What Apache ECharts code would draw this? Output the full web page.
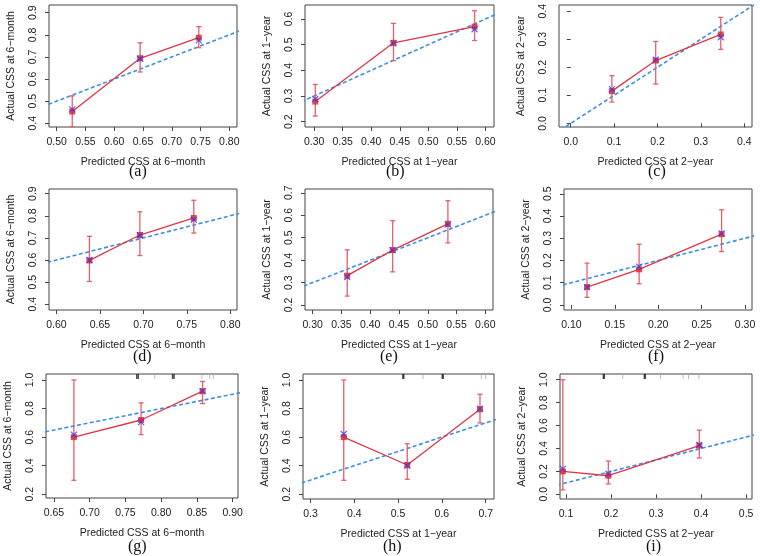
<!DOCTYPE html>
<html><head><meta charset="utf-8">
<script src="https://cdn.jsdelivr.net/npm/echarts@6/dist/echarts.min.js"></script>
<style>html,body{margin:0;padding:0;background:#fff}#c{width:760px;height:556px}</style>
</head><body><div id="c"></div>
<script>
// ---------- data ----------
const panelLabels = ['(a)','(b)','(c)','(d)','(e)','(f)','(g)','(h)','(i)'];
const xTitles = ['Predicted CSS at 6\u2212month','Predicted CSS at 1\u2212year','Predicted CSS at 2\u2212year',
                 'Predicted CSS at 6\u2212month','Predicted CSS at 1\u2212year','Predicted CSS at 2\u2212year',
                 'Predicted CSS at 6\u2212month','Predicted CSS at 1\u2212year','Predicted CSS at 2\u2212year'];
const yTitles = ['Actual CSS at 6\u2212month','Actual CSS at 1\u2212year','Actual CSS at 2\u2212year',
                 'Actual CSS at 6\u2212month','Actual CSS at 1\u2212year','Actual CSS at 2\u2212year',
                 'Actual CSS at 6\u2212month','Actual CSS at 1\u2212year','Actual CSS at 2\u2212year'];
const xTicks = [
  [0.50,0.55,0.60,0.65,0.70,0.75,0.80],
  [0.30,0.35,0.40,0.45,0.50,0.55,0.60],
  [0.0,0.1,0.2,0.3,0.4],
  [0.60,0.65,0.70,0.75,0.80],
  [0.30,0.35,0.40,0.45,0.50,0.55,0.60],
  [0.10,0.15,0.20,0.25,0.30],
  [0.65,0.70,0.75,0.80,0.85,0.90],
  [0.3,0.4,0.5,0.6,0.7],
  [0.1,0.2,0.3,0.4,0.5]];
const xDecimals = [2,2,1,2,2,2,2,1,1];
const yTicks = [
  [0.4,0.5,0.6,0.7,0.8,0.9],
  [0.2,0.3,0.4,0.5,0.6],
  [0.0,0.1,0.2,0.3,0.4],
  [0.4,0.5,0.6,0.7,0.8,0.9],
  [0.2,0.3,0.4,0.5,0.6,0.7],
  [0.0,0.1,0.2,0.3,0.4,0.5],
  [0.2,0.4,0.6,0.8,1.0],
  [0.2,0.4,0.6,0.8,1.0],
  [0.0,0.2,0.4,0.6,0.8,1.0]];
const xRange = [[0.4866,0.8134],[0.284,0.615],[-0.027,0.418],[0.5915,0.8077],[0.2866,0.6134],
                [0.0915,0.308],[0.639,0.9075],[0.283,0.719],[0.0867,0.513]];
const yRange = [[0.383,0.935],[0.179,0.6545],[-0.013,0.422],[0.374,0.921],[0.178,0.717],
                [-0.023,0.5215],[0.174,1.042],[0.167,1.042],[-0.041,1.05]];
// predicted (x), observed KM (red), lower/upper CI, apparent (blue x)
const predicted = [
  [0.527,0.645,0.747],[0.302,0.439,0.581],[0.095,0.196,0.346],
  [0.638,0.696,0.758],[0.360,0.439,0.535],[0.118,0.178,0.273],
  [0.678,0.772,0.858],[0.376,0.521,0.687],[0.093,0.194,0.396]];
const observed = [
  [0.453,0.694,0.787],[0.278,0.507,0.570],[0.115,0.224,0.317],
  [0.598,0.713,0.790],[0.331,0.445,0.562],[0.080,0.160,0.318],
  [0.600,0.720,0.922],[0.600,0.405,0.795],[0.200,0.162,0.425]];
const lower = [
  [0.385,0.632,0.742],[0.222,0.438,0.516],[0.076,0.140,0.264],
  [0.503,0.620,0.722],[0.240,0.348,0.477],[0.034,0.095,0.240],
  [0.298,0.618,0.835],[0.298,0.305,0.700],[0.038,0.091,0.317]];
const upper = [
  [0.524,0.764,0.837],[0.345,0.583,0.632],[0.170,0.292,0.378],
  [0.707,0.818,0.870],[0.446,0.576,0.665],[0.188,0.273,0.428],
  [1.000,0.840,0.990],[1.000,0.554,0.900],[1.000,0.290,0.560]];
const apparent = [
  [0.463,0.692,0.775],[0.288,0.505,0.560],[0.122,0.227,0.307],
  [0.600,0.712,0.782],[0.325,0.445,0.558],[0.080,0.172,0.322],
  [0.618,0.705,0.922],[0.622,0.400,0.800],[0.224,0.180,0.430]];
const idealLine = [[-0.2,-0.2],[1.2,1.2]];
const rugDark = [[],[],[],[],[],[],[0.766,0.768,0.816,0.818],[0.511,0.513,0.601,0.603],[0.183,0.185,0.274,0.276]];
const rugLight = [[],[],[],[],[],[],[0.791,0.857,0.868,0.873],[0.557,0.690,0.700],[0.226,0.310,0.360,0.372,0.395]];

// ---------- layout ----------
const boxes = [
  [49,5,188,122],[305,5,189,122],[559,5,193,122],
  [49,189,188,121],[305,189,188,121],[564,189,188,121],
  [46,374,192,124],[303,374,191,125],[560,374,192,125]];
const labelPos = [[139,174],[396,174],[658,174],[143,359],[390,359],[658,359],[138,549],[393,549],[656,549]];

const FONT = '"Liberation Sans", Arial, sans-serif';
const TXT = '#222';
const RED = '#d8232f', REDLINE = '#e03545', BAR = '#e3606c', BLUE = '#3d8fe3', XBLUE = '#3a3ae8';

const grid = [], xAxis = [], yAxis = [], series = [], graphic = [];
for (let k = 0; k < 9; k++) {
  const b = boxes[k];
  grid.push({left:b[0], top:b[1], width:b[2], height:b[3], show:true, borderColor:'#444', borderWidth:1, backgroundColor:'transparent'});
  const xd = xDecimals[k];
  xAxis.push({type:'value', gridIndex:k, min:xRange[k][0], max:xRange[k][1],
    name:xTitles[k], nameLocation:'middle', nameGap:30,
    nameTextStyle:{fontFamily:FONT, fontSize:10.5, color:TXT},
    axisLine:{show:false}, splitLine:{show:false},
    axisTick:{show:true, inside:false, length:4, customValues:xTicks[k], lineStyle:{color:'#444'}},
    axisLabel:{fontFamily:FONT, fontSize:10.5, color:TXT, margin:10, customValues:xTicks[k],
      formatter:v => (+v).toFixed(xd)}});
  yAxis.push({type:'value', gridIndex:k, min:yRange[k][0], max:yRange[k][1],
    name:yTitles[k], nameLocation:'middle', nameGap:32, nameRotate:90,
    nameTextStyle:{fontFamily:FONT, fontSize:10.5, color:TXT},
    axisLine:{show:false}, splitLine:{show:false},
    axisTick:{show:true, inside:false, length:4, customValues:yTicks[k], lineStyle:{color:'#444'}},
    axisLabel:{fontFamily:FONT, fontSize:10.5, color:TXT, margin:10, rotate:90, customValues:yTicks[k],
      formatter:v => (+v).toFixed(1)}});
  const pts = predicted[k].map((x,i)=>[x, observed[k][i]]);
  series.push({type:'line', xAxisIndex:k, yAxisIndex:k, data:idealLine, symbol:'none', clip:true, silent:true,
    lineStyle:{color:BLUE, width:1.6, type:[4,2.5]}, z:2});
  series.push({type:'line', xAxisIndex:k, yAxisIndex:k, data:pts, symbol:'none', silent:true,
    lineStyle:{color:REDLINE, width:1.3}, z:3});
  series.push({type:'custom', xAxisIndex:k, yAxisIndex:k, silent:true, z:4,
    data:predicted[k].map((x,i)=>[x, lower[k][i], upper[k][i]]),
    encode:{x:0, y:[1,2]},
    renderItem:(params, api) => {
      const x = api.value(0);
      const lo = api.coord([x, api.value(1)]), hi = api.coord([x, api.value(2)]);
      const c = 2.5, st = {stroke:BAR, lineWidth:1.3};
      return {type:'group', children:[
        {type:'line', shape:{x1:lo[0], y1:lo[1], x2:hi[0], y2:hi[1]}, style:st},
        {type:'line', shape:{x1:lo[0]-c, y1:lo[1], x2:lo[0]+c, y2:lo[1]}, style:st},
        {type:'line', shape:{x1:hi[0]-c, y1:hi[1], x2:hi[0]+c, y2:hi[1]}, style:st}]};
    }});
  series.push({type:'scatter', xAxisIndex:k, yAxisIndex:k, silent:true, z:5,
    data:pts, symbol:'rect', symbolSize:6, itemStyle:{color:RED}});
  series.push({type:'scatter', xAxisIndex:k, yAxisIndex:k, silent:true, z:6,
    data:predicted[k].map((x,i)=>[x, apparent[k][i]]),
    symbol:'path://M0 0L10 10M10 0L0 10', symbolSize:6,
    itemStyle:{color:'rgba(0,0,0,0)', borderColor:XBLUE, borderWidth:1.2}});
  if (rugDark[k].length) {
    series.push({type:'scatter', xAxisIndex:k, yAxisIndex:k, silent:true, z:7,
      data:rugDark[k].map(x=>[x, yRange[k][1]]), symbol:'rect', symbolSize:[1.5,5], symbolOffset:[0,2.5],
      itemStyle:{color:'#222'}});
    series.push({type:'scatter', xAxisIndex:k, yAxisIndex:k, silent:true, z:7,
      data:rugLight[k].map(x=>[x, yRange[k][1]]), symbol:'rect', symbolSize:[1,5], symbolOffset:[0,2.5],
      itemStyle:{color:'#aaa'}});
  }
  graphic.push({type:'text', left:labelPos[k][0]-10, top:labelPos[k][1]-10,
    style:{text:panelLabels[k], font:'16px "Liberation Serif", "Times New Roman", serif', fill:'#111'}});
}

const chart = echarts.init(document.getElementById('c'), null, {renderer:'canvas'});
chart.setOption({animation:false, grid, xAxis, yAxis, series, graphic});
</script>
</body></html>
